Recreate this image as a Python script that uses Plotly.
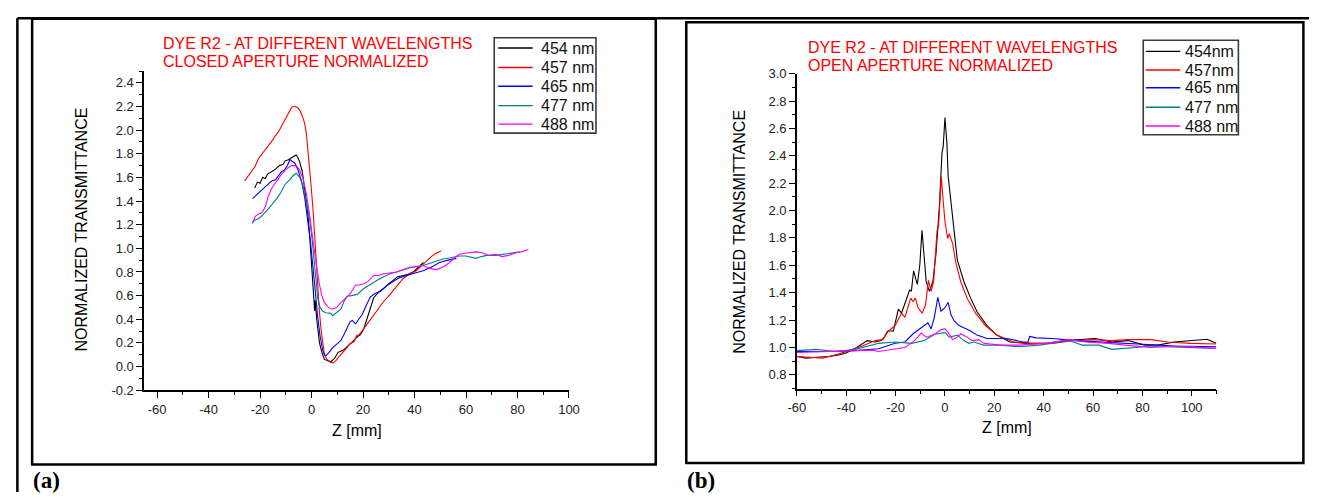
import plotly.graph_objects as go

W, H = 1320, 500

# ---------------- data: panel (a) closed aperture ----------------
a_labels = ["454 nm", "457 nm", "465 nm", "477 nm", "488 nm"]

a454_z = [-22.1, -21.0, -20.0, -19.0, -18.0, -17.0, -15.4, -14.0, -12.5, -11.0, -10.3, -9.0, -7.5, -6.5, -6.0, -5.4,
          -4.6, -3.6, -2.7, -1.6, -0.8, 0.5, 0.8, 1.2, 1.4, 2.0, 3.1, 4.0, 5.0, 6.2, 7.5, 9.0, 10.3, 11.4, 12.5, 13.9,
          15.5, 17.7, 19.0, 20.3, 21.2, 22.2, 23.2, 24.1, 26.0, 28.0, 30.0, 31.8, 33.5, 35.6, 37.5, 39.5, 41.0, 42.0, 43.5]
a454_t = [1.51, 1.56, 1.55, 1.60, 1.59, 1.63, 1.65, 1.67, 1.70, 1.71, 1.74, 1.75, 1.77, 1.785, 1.79, 1.77,
          1.73, 1.65, 1.51, 1.33, 1.13, 0.72, 0.62, 0.47, 0.56, 0.40, 0.20, 0.12, 0.06, 0.05, 0.04, 0.07, 0.12, 0.13,
          0.14, 0.17, 0.20, 0.25, 0.27, 0.32, 0.38, 0.44, 0.52, 0.58, 0.63, 0.66, 0.70, 0.73, 0.76, 0.77, 0.78, 0.80,
          0.83, 0.855, 0.88]

a457_z = [-26.0, -25.0, -24.0, -23.0, -22.0, -20.6, -19.5, -18.0, -16.5, -15.0, -14.2, -13.0, -11.0, -9.5, -8.5,
          -7.8, -7.2, -6.2, -5.4, -4.6, -3.6, -2.7, -2.0, -1.4, -0.7, -0.1, 0.6, 1.15, 1.8, 2.4, 3.0, 3.7, 4.4, 5.0,
          6.0, 7.0, 8.2, 9.5, 10.5, 11.4, 13.0, 15.2, 16.5, 17.5, 18.5, 20.3, 22.0, 23.8, 25.5, 28.0, 30.5, 33.0,
          35.6, 38.0, 40.7, 42.6, 44.6, 46.5, 48.5, 50.4]
a457_t = [1.57, 1.60, 1.62, 1.66, 1.69, 1.76, 1.79, 1.84, 1.88, 1.92, 1.95, 1.98, 2.06, 2.12, 2.16, 2.19, 2.20,
          2.20, 2.19, 2.17, 2.12, 2.06, 1.97, 1.84, 1.68, 1.51, 1.32, 1.13, 0.90, 0.66, 0.48, 0.31, 0.18, 0.10, 0.06,
          0.04, 0.03, 0.05, 0.08, 0.10, 0.14, 0.20, 0.21, 0.26, 0.27, 0.32, 0.37, 0.43, 0.48, 0.55, 0.61, 0.68,
          0.745, 0.78, 0.81, 0.85, 0.895, 0.93, 0.96, 0.977]

a465_z = [-22.9, -21.5, -20.0, -18.5, -16.7, -15.5, -14.0, -12.8, -11.6, -10.5, -9.4, -8.4, -7.4, -6.5, -5.2, -3.9,
          -2.6, -1.4, -0.4, 0.5, 1.4, 2.4, 3.3, 4.3, 5.0, 5.6, 6.8, 8.2, 9.8, 11.4, 12.6, 13.9, 15.0, 15.8, 17.1,
          18.3, 19.7, 21.3, 22.9, 24.8, 26.7, 29.0, 31.8, 34.0, 36.9, 40.0, 43.3, 46.5, 49.7, 53.0, 56.3]
a465_t = [1.42, 1.45, 1.48, 1.51, 1.55, 1.57, 1.58, 1.62, 1.65, 1.66, 1.70, 1.75, 1.73, 1.72, 1.66, 1.57, 1.42,
          1.24, 1.05, 0.85, 0.63, 0.42, 0.26, 0.14, 0.10, 0.09, 0.12, 0.16, 0.19, 0.22, 0.27, 0.33, 0.38, 0.39,
          0.36, 0.40, 0.44, 0.52, 0.59, 0.62, 0.635, 0.68, 0.72, 0.75, 0.77, 0.79, 0.81, 0.84, 0.88, 0.90, 0.915]

a477_z = [-23.1, -22.0, -20.6, -19.0, -17.0, -15.4, -13.5, -12.0, -10.3, -8.5, -7.0, -5.9, -4.6, -3.3, -2.0, -0.8,
          0.2, 1.1, 1.8, 2.4, 3.3, 4.3, 5.5, 7.5, 8.2, 8.8, 10.0, 11.4, 12.6, 13.9, 15.5, 17.7, 20.3, 23.0, 25.5,
          28.0, 30.5, 33.0, 35.6, 39.0, 43.3, 47.0, 51.0, 54.0, 57.4, 60.0, 62.0, 63.8, 66.0, 68.0, 71.5, 75.0,
          79.2, 80.9]
a477_t = [1.21, 1.24, 1.25, 1.28, 1.33, 1.37, 1.42, 1.47, 1.54, 1.58, 1.62, 1.635, 1.60, 1.525, 1.40, 1.26, 1.08,
          0.88, 0.70, 0.58, 0.50, 0.47, 0.455, 0.45, 0.43, 0.44, 0.46, 0.485, 0.55, 0.595, 0.60, 0.61, 0.66, 0.70,
          0.73, 0.76, 0.785, 0.80, 0.82, 0.84, 0.855, 0.88, 0.91, 0.92, 0.935, 0.935, 0.925, 0.915, 0.93, 0.94,
          0.94, 0.95, 0.965, 0.97]

a488_z = [-22.9, -21.8, -20.6, -19.3, -18.0, -16.8, -15.4, -13.5, -11.6, -9.8, -7.8, -5.9, -4.6, -3.3, -2.0, -0.8,
          0.2, 1.1, 2.1, 3.1, 4.0, 5.0, 6.5, 8.2, 9.8, 11.4, 13.3, 15.2, 17.1, 18.5, 20.3, 22.0, 24.1, 26.0, 28.0,
          30.5, 33.1, 35.6, 38.2, 41.0, 43.3, 46.0, 48.5, 51.0, 53.6, 55.5, 57.4, 60.5, 63.8, 66.0, 68.9, 71.5,
          74.0, 76.5, 79.2, 81.5, 84.2]
a488_t = [1.22, 1.27, 1.29, 1.30, 1.35, 1.44, 1.51, 1.57, 1.63, 1.67, 1.70, 1.70, 1.66, 1.59, 1.46, 1.29, 1.12,
          0.96, 0.82, 0.69, 0.60, 0.54, 0.50, 0.485, 0.50, 0.54, 0.58, 0.62, 0.69, 0.69, 0.70, 0.72, 0.77, 0.77,
          0.785, 0.79, 0.80, 0.82, 0.84, 0.845, 0.855, 0.83, 0.82, 0.84, 0.88, 0.92, 0.95, 0.96, 0.97, 0.965, 0.94,
          0.95, 0.93, 0.94, 0.96, 0.97, 0.99]

# ---------------- data: panel (b) open aperture ----------------
b_labels = ["454nm", "457nm", "465 nm", "477 nm", "488 nm"]

b454_z = [-60, -56.2, -52, -46.9, -43, -40.2, -36.5, -33.5, -31.5, -28.2, -26, -24.9, -23.2, -20.9, -18.9, -17.6,
          -16, -14.3, -13.6, -12.7, -11.2, -10.2, -9.3, -8.4, -7.6, -6.3, -4.9, -3.6, -2.3, -1.2, -0.7, 0.0, 0.8,
          1.3, 3.1, 5.0, 7.7, 10.4, 13.0, 17.0, 21.0, 26.3, 33.0, 41.0, 48.9, 56.9, 60.9, 67.6, 74.2, 80.9, 86.2,
          92.9, 99.6, 106.2, 109.9]
b454_t = [0.934, 0.922, 0.928, 0.934, 0.945, 0.96, 0.99, 1.03, 1.05, 1.04, 1.05, 1.065, 1.12, 1.12, 1.28, 1.25,
          1.33, 1.42, 1.41, 1.56, 1.46, 1.60, 1.855, 1.65, 1.48, 1.41, 1.48, 1.69, 2.02, 2.42, 2.47, 2.68, 2.49,
          2.25, 1.95, 1.64, 1.48, 1.36, 1.26, 1.16, 1.09, 1.04, 1.03, 1.03, 1.05, 1.057, 1.065, 1.04, 1.05, 1.017,
          1.017, 1.04, 1.05, 1.06, 1.03]

b457_z = [-60, -55, -49.5, -42.9, -38, -33.5, -28.2, -25.3, -22.9, -20.2, -17.6, -16.2, -13.9, -12.9, -12.0,
          -10.9, -9.2, -7.9, -6.7, -5.6, -4.6, -3.2, -2.6, -1.5, -0.9, 0.0, 1.1, 1.7, 3.1, 4.4, 6.4, 9.0, 12.4,
          16.4, 21.0, 27.7, 35.6, 43.6, 51.6, 59.6, 67.6, 74.2, 83.6, 90.2, 99.6, 109.9]
b457_t = [0.934, 0.93, 0.922, 0.953, 0.98, 1.01, 1.05, 1.057, 1.12, 1.16, 1.25, 1.22, 1.36, 1.335, 1.36, 1.29,
          1.25, 1.31, 1.49, 1.41, 1.48, 1.855, 1.88, 2.25, 2.11, 1.92, 1.795, 1.83, 1.76, 1.62, 1.48, 1.36, 1.25,
          1.16, 1.09, 1.04, 1.03, 1.03, 1.05, 1.057, 1.05, 1.057, 1.057, 1.04, 1.03, 1.025]

b465_z = [-60, -46.9, -36.2, -26.9, -20.2, -16.2, -12.9, -9.6, -6.9, -5.6, -4.3, -2.9, -1.6, 0.0, 1.3, 2.4, 3.7,
          5.7, 7.7, 10.4, 13.0, 17.0, 25.0, 31.7, 33.7, 34.3, 37.0, 43.6, 52.9, 62.3, 72.9, 83.6, 92.9, 109.9]
b465_t = [0.97, 0.97, 0.977, 0.99, 1.03, 1.04, 1.10, 1.145, 1.18, 1.135, 1.22, 1.365, 1.265, 1.29, 1.33, 1.24,
          1.195, 1.16, 1.145, 1.12, 1.09, 1.065, 1.065, 1.04, 1.04, 1.08, 1.07, 1.065, 1.05, 1.04, 1.03, 1.017,
          1.01, 1.005]

b477_z = [-60, -52.2, -44.2, -36.2, -26.9, -20.2, -13.6, -8.3, -4.3, 0.0, 1.7, 5.0, 7.7, 9.7, 11.7, 15.7, 22.4,
          30.3, 38.3, 46.3, 50.3, 55.6, 62.3, 67.6, 72.9, 80.9, 88.9, 99.6, 109.9]
b477_t = [0.977, 0.986, 0.97, 0.986, 1.03, 1.04, 1.03, 1.05, 1.095, 1.11, 1.075, 1.09, 1.05, 1.03, 1.04, 1.017,
          1.017, 1.005, 1.017, 1.04, 1.05, 1.017, 1.017, 0.986, 0.993, 1.005, 1.005, 1.0, 0.993]

b488_z = [-60, -46.9, -36.2, -29.5, -26.9, -20.2, -16.2, -12.3, -9.6, -7.6, -4.3, -1.6, 0.0, 1.3, 3.1, 5.0, 6.4,
          9.0, 11.0, 13.7, 15.7, 22.4, 30.3, 41.0, 50.3, 56.9, 66.3, 72.9, 83.6, 92.9, 109.9]
b488_t = [0.963, 0.97, 0.977, 0.98, 0.97, 0.99, 1.0, 1.05, 1.105, 1.075, 1.095, 1.13, 1.135, 1.11, 1.057, 1.075,
          1.10, 1.075, 1.05, 1.057, 1.03, 1.017, 1.017, 1.03, 1.057, 1.04, 1.03, 1.017, 1.0, 1.01, 0.993]

# ---------------- tick labels ----------------
a_xtick_vals = [-60, -40, -20, 0, 20, 40, 60, 80, 100]
a_xtick_text = ["-60", "-40", "-20", "0", "20", "40", "60", "80", "100"]
a_ytick_vals = [-0.2, 0.0, 0.2, 0.4, 0.6, 0.8, 1.0, 1.2, 1.4, 1.6, 1.8, 2.0, 2.2, 2.4]
a_ytick_text = ["-0.2", "0.0", "0.2", "0.4", "0.6", "0.8", "1.0", "1.2", "1.4", "1.6", "1.8", "2.0", "2.2", "2.4"]
b_xtick_vals = [-60, -40, -20, 0, 20, 40, 60, 80, 100]
b_xtick_text = ["-60", "-40", "-20", "0", "20", "40", "60", "80", "100"]
b_ytick_vals = [0.8, 1.0, 1.2, 1.4, 1.6, 1.8, 2.0, 2.2, 2.4, 2.6, 2.8, 3.0]
b_ytick_text = ["0.8", "1.0", "1.2", "1.4", "1.6", "1.8", "2.0", "2.2", "2.4", "2.6", "2.8", "3.0"]

colors = ["#000000", "#ff0000", "#0000ff", "#008080", "#ff00ff"]

a_series = [(a454_z, a454_t), (a457_z, a457_t), (a465_z, a465_t), (a477_z, a477_t), (a488_z, a488_t)]
b_series = [(b454_z, b454_t), (b457_z, b457_t), (b465_z, b465_t), (b477_z, b477_t), (b488_z, b488_t)]

FONT = "Liberation Sans, Arial, sans-serif"
SERIF = "Liberation Serif, Times New Roman, serif"


def px(x):  # pixel -> paper fraction
    return x / W


def py(y):
    return 1 - y / H


fig = go.Figure()
for (z, t), name, c in zip(a_series, a_labels, colors):
    fig.add_trace(go.Scatter(x=z, y=t, mode="lines", name=name, line=dict(color=c, width=1.1),
                             xaxis="x", yaxis="y", showlegend=False))
for (z, t), name, c in zip(b_series, b_labels, colors):
    fig.add_trace(go.Scatter(x=z, y=t, mode="lines", name=name, line=dict(color=c, width=1.1),
                             xaxis="x2", yaxis="y2", showlegend=False))

axis_common = dict(showline=True, linecolor="black", linewidth=1.5, ticks="outside", ticklen=6, tickwidth=1.3,
                   tickcolor="black", showgrid=False, zeroline=False, mirror=False, tickmode="array",
                   tickfont=dict(family=FONT, size=13, color="#222"))


def minor(d0, dt):
    return dict(ticks="outside", ticklen=3.5, tickmode="linear", tick0=d0, dtick=dt, tickcolor="black",
                tickwidth=1.2, showgrid=False)


fig.update_layout(
    width=W, height=H, margin=dict(l=0, r=0, t=0, b=0),
    paper_bgcolor="white", plot_bgcolor="white", showlegend=False,
    xaxis=dict(domain=[px(137.3), px(568.6)], range=[-65, 100], tickvals=a_xtick_vals, ticktext=a_xtick_text,
               anchor="y", minor=minor(-50, 20), **axis_common),
    yaxis=dict(domain=[py(395), py(66)], range=[-0.2, 2.5], tickvals=a_ytick_vals, ticktext=a_ytick_text,
               anchor="x", minor=minor(-0.1, 0.2), **axis_common),
    xaxis2=dict(domain=[px(800), px(1226)], range=[-60, 110], tickvals=b_xtick_vals, ticktext=b_xtick_text,
                anchor="y2", minor=minor(-50, 20), **axis_common),
    yaxis2=dict(domain=[py(393.3), py(68.7)], range=[0.7, 3.0], tickvals=b_ytick_vals, ticktext=b_ytick_text,
                anchor="x2", minor=minor(0.7, 0.2), **axis_common),
)

# frames
line_k = dict(color="black", width=2.5)
shapes = [
    dict(type="line", xref="paper", yref="paper", x0=px(8.5), x1=px(8.5), y0=py(11.5), y1=py(500), line=line_k),
    dict(type="line", xref="paper", yref="paper", x0=px(8.5), x1=px(1320), y0=py(11.5), y1=py(11.5), line=line_k),
    dict(type="rect", xref="paper", yref="paper", x0=px(23.5), x1=px(656.7), y0=py(471.7), y1=py(12),
         line=line_k, fillcolor="rgba(0,0,0,0)"),
    dict(type="rect", xref="paper", yref="paper", x0=px(687.7), x1=px(1314.3), y0=py(470), y1=py(15.7),
         line=line_k, fillcolor="rgba(0,0,0,0)"),
]

ann = []


def text(x, y, s, size=16, color="black", xanchor="center", angle=0, family=FONT):
    ann.append(dict(x=px(x), y=py(y), xref="paper", yref="paper", text=s, showarrow=False, xanchor=xanchor,
                    yanchor="middle", textangle=angle, font=dict(family=family, size=size, color=color),
                    borderpad=0))


# legends (box, sample lines, labels)
def legend(box, x_line0, x_line1, x_text, rows, labels):
    shapes.append(dict(type="rect", xref="paper", yref="paper", x0=px(box[0]), x1=px(box[1]), y0=py(box[3]),
                       y1=py(box[2]), line=dict(color="#3c3c3c", width=1.6), fillcolor="white", layer="above"))
    for yr, lab, c in zip(rows, labels, colors):
        shapes.append(dict(type="line", xref="paper", yref="paper", x0=px(x_line0), x1=px(x_line1), y0=py(yr),
                           y1=py(yr), line=dict(color=c, width=1.4), layer="above"))
        text(x_text, yr, lab, size=16, color="#111", xanchor="left")


legend((492.7, 596, 31.7, 130), 496.7, 531.7, 539.5, [42.3, 62.3, 81.7, 101.7, 120.7], a_labels)
legend((1151.7, 1248.3, 34.3, 131.7), 1154.3, 1189.3, 1193, [45.7, 65, 83.3, 103.3, 122.7], b_labels)

# panel titles
text(155.7, 37.7, "DYE R2 - AT DIFFERENT WAVELENGTHS", color="#ff0000", xanchor="left")
text(155.7, 56.7, "CLOSED APERTURE NORMALIZED", color="#ff0000", xanchor="left")
text(810.7, 41.7, "DYE R2 - AT DIFFERENT WAVELENGTHS", color="#ff0000", xanchor="left")
text(810.7, 60.7, "OPEN APERTURE NORMALIZED", color="#ff0000", xanchor="left")
# axis titles
text(74, 229.5, "NORMALIZED TRANSMITTANCE", angle=-90)
text(742.3, 231.7, "NORMALIZED TRANSMITTANCE", angle=-90)
text(353.3, 436.7, "Z [mm]")
text(1013.3, 433.3, "Z [mm]")
# panel labels
text(23.3, 488, "<b>(a)</b>", size=23, xanchor="left", family=SERIF)
text(687.7, 488, "<b>(b)</b>", size=23, xanchor="left", family=SERIF)

fig.update_layout(shapes=shapes, annotations=ann)

fig.write_html("out.html")
